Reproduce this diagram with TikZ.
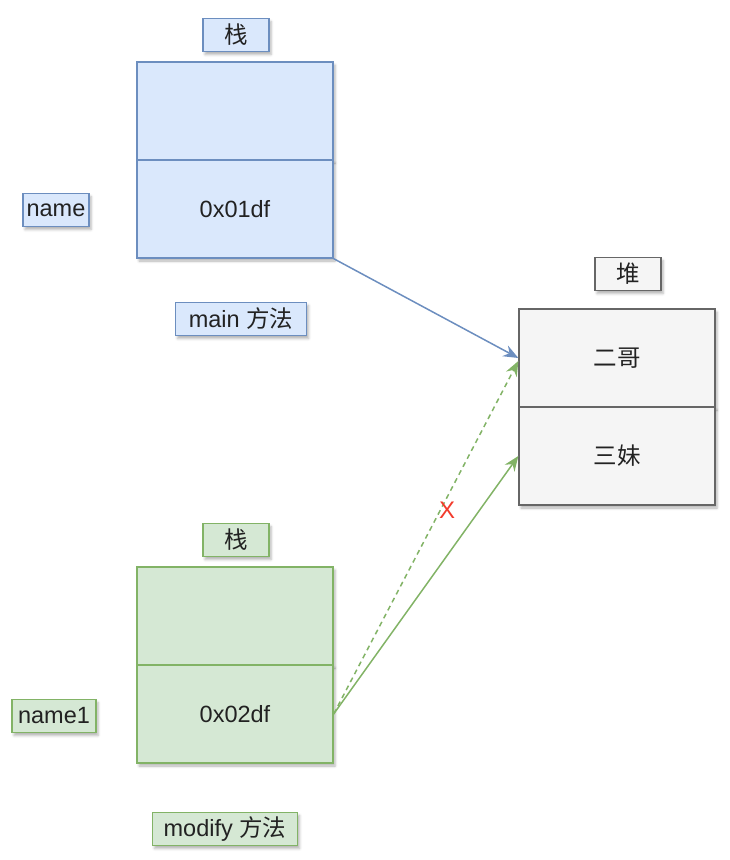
\documentclass[tikz,border=0pt]{standalone}
\usepackage{fontspec}
\setmainfont{Liberation Sans}
\newfontfamily\cjk{Noto Sans CJK SC}
\usetikzlibrary{arrows.meta,shadows.blur}
\definecolor{bluefill}{HTML}{DAE8FC}
\definecolor{bluedraw}{HTML}{6C8EBF}
\definecolor{greenfill}{HTML}{D5E8D4}
\definecolor{greendraw}{HTML}{82B366}
\definecolor{grayfill}{HTML}{F5F5F5}
\definecolor{graydraw}{HTML}{666666}
\definecolor{txt}{HTML}{222222}
\definecolor{xred}{HTML}{F23B2C}
\tikzset{
  shad/.style={blur shadow={shadow xshift=2pt,shadow yshift=-3pt,shadow blur radius=2.5pt,shadow opacity=30}},
  cell/.style={shad,draw,line width=1.3pt,minimum width=196pt,minimum height=98pt,inner sep=0pt,
    font=\fontsize{23.5}{26}\selectfont,text=txt},
  lab/.style={shad,draw,line width=1.3pt,minimum height=33pt,inner sep=0pt,
    font=\fontsize{23.5}{26}\selectfont,text=txt},
  bluec/.style={fill=bluefill,draw=bluedraw},
  greenc/.style={fill=greenfill,draw=greendraw},
  grayc/.style={fill=grayfill,draw=graydraw},
  tip/.style={-{Stealth[length=15pt,width=12pt,inset=5pt]}},
}
\begin{document}
\begin{tikzpicture}[x=1pt,y=-1pt]
\useasboundingbox (0,0) rectangle (730,860);
% top stack
\node[lab,bluec,minimum width=66pt] (l1) at (236,35) {\cjk 栈};
\node[cell,bluec] (s1top) at (235,111) {};
\node[cell,bluec] (s1bot) at (235,209) {0x01df};
\node[lab,bluec,minimum width=66pt] (n1) at (56,210) {name};
\node[lab,bluec,minimum width=131pt] (m1) at (241,319) {main {\cjk 方法}};
% heap
\node[lab,grayc,minimum width=66pt] (lh) at (628,274) {\cjk 堆};
\node[cell,grayc] (h1) at (617,358) {\cjk 二哥};
\node[cell,grayc] (h2) at (617,456) {\cjk 三妹};
% bottom stack
\node[lab,greenc,minimum width=66pt] (l2) at (236,540) {\cjk 栈};
\node[cell,greenc] (s2top) at (235,616) {};
\node[cell,greenc] (s2bot) at (235,714) {0x02df};
\node[lab,greenc,minimum width=84pt] (n2) at (54,716) {name1};
\node[lab,greenc,minimum width=145pt] (m2) at (225,829) {modify {\cjk 方法}};
% connectors
\coordinate (hd) at ([yshift=-3pt]h1.west);
\draw[tip,bluedraw,line width=1.5pt] (s1bot.south east) -- (h1.west);
\draw[tip,greendraw,line width=1.5pt,dash pattern=on 5pt off 4pt] (s2bot.east) -- (hd);
\draw[tip,greendraw,line width=1.5pt] (s2bot.east) -- (h2.west);
\node[text=xred,font=\fontsize{24}{26}\selectfont] (x) at (447,510) {X};
\end{tikzpicture}
\end{document}
